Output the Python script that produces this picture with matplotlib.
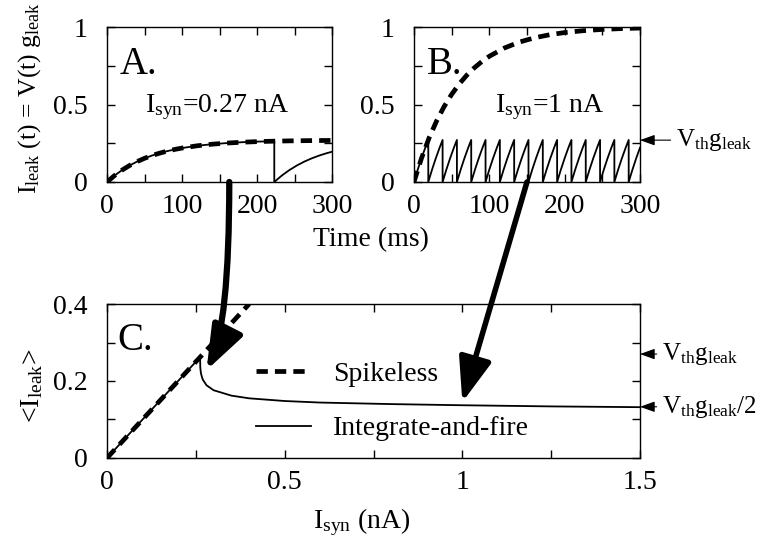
import numpy as np
import matplotlib
matplotlib.use("Agg")
import matplotlib.pyplot as plt
from matplotlib.patches import ConnectionPatch

plt.rcParams.update({
    "font.family": "Liberation Serif",
    "mathtext.fontset": "custom",
    "mathtext.rm": "Liberation Serif",
    "mathtext.it": "Liberation Serif:italic",
    "font.size": 20,
})

# ---- panel A: I_syn = 0.27 nA ----
tA = [0, 10, 20, 30, 40, 50, 60, 70, 80, 90, 100, 120, 140, 160, 180, 200, 225, 250, 275, 300]
spikelessA = [0, 0.0414, 0.0765, 0.1062, 0.1314, 0.1527, 0.1707, 0.1859, 0.1988, 0.2098, 0.2190,
              0.2335, 0.2438, 0.2512, 0.2566, 0.2604, 0.2637, 0.2658, 0.2672, 0.2682]
tA_if = [0, 10, 20, 30, 40, 50, 60, 70, 80, 90, 100, 120, 140, 160, 180, 200, 223,
         223, 233, 243, 253, 263, 273, 283, 293, 300]
ifA = [0, 0.0414, 0.0765, 0.1062, 0.1314, 0.1527, 0.1707, 0.1859, 0.1988, 0.2098, 0.2190,
       0.2335, 0.2438, 0.2512, 0.2566, 0.2604, 0.2632,
       0, 0.0414, 0.0765, 0.1062, 0.1314, 0.1527, 0.1707, 0.1860, 0.1950]

# ---- panel B: I_syn = 1 nA ----
tB = [0, 10, 20, 30, 40, 50, 60, 70, 80, 90, 100, 120, 140, 160, 180, 200, 225, 250, 275, 300]
spikelessB = [0, 0.1535, 0.2835, 0.3935, 0.4866, 0.5654, 0.6321, 0.6886, 0.7364, 0.7769, 0.8111,
              0.8647, 0.9030, 0.9305, 0.9502, 0.9643, 0.9765, 0.9845, 0.9898, 0.9933]
spike_times_B = [0, 19, 38, 57, 76, 95, 114, 133, 152, 171, 190, 209, 228, 247, 266, 285]
tooth_t = [0, 5, 10, 15, 19]
tooth_v = [0, 0.0799, 0.1535, 0.2212, 0.2714]

# ---- panel C: mean leak current vs I_syn ----
isyn_spikeless = [0, 0.4]
mean_spikeless = [0, 0.4]
isyn_if = [0, 0.262, 0.2625, 0.264, 0.266, 0.268, 0.27, 0.28, 0.30, 0.35, 0.40, 0.50,
           0.60, 0.80, 1.0, 1.25, 1.5]
mean_if = [0, 0.262, 0.235, 0.222, 0.214, 0.208, 0.203, 0.189, 0.176, 0.162, 0.155, 0.148,
           0.144, 0.140, 0.137, 0.134, 0.132]
vth_g = 0.27
vth_g_half = 0.133

fig = plt.figure(figsize=(7.6, 5.46), dpi=100)
axA = fig.add_axes([0.1408, 0.6667, 0.2961, 0.2838])
axB = fig.add_axes([0.5447, 0.6667, 0.2974, 0.2838])
axC = fig.add_axes([0.1408, 0.1612, 0.7013, 0.2820])

DASH = dict(color="k", lw=3.4, ls=(0, (2.4, 1.5)), solid_capstyle="butt", dash_capstyle="butt")
SOLID = dict(color="k", lw=1.3)
SMALL_ARROW = dict(arrowstyle="-|>,head_length=0.5,head_width=0.18", color="k", lw=0.8,
                   shrinkA=2, shrinkB=0)

def style(ax, xmaj, xmin, ymaj, ymin):
    ax.set_xticks(xmaj)
    ax.set_xticks(xmin, minor=True)
    ax.set_yticks(ymaj)
    ax.set_yticks(ymin, minor=True)
    ax.tick_params(which="both", direction="in", top=True, right=True, length=6, width=1)
    ax.tick_params(axis="x", which="major", pad=9)
    ax.tick_params(axis="y", which="major", pad=14)
    for s in ax.spines.values():
        s.set_linewidth(1)

# A
axA.plot(tA_if, ifA, **SOLID)
axA.plot(tA, spikelessA, **DASH)
axA.set_xlim(0, 300); axA.set_ylim(0, 1)
style(axA, [0, 100, 200, 300], [50, 150, 250], [0, 0.5, 1], [0.25, 0.75])
axA.set_yticklabels(["0", "0.5", "1"])
axA.text(0.055, 0.70, "A.", transform=axA.transAxes, fontsize=28)
axA.text(0.49, 0.45, r"I$_{\mathrm{syn}}$=0.27 nA", transform=axA.transAxes, ha="center")

# B
saw_t, saw_v = [], []
for ts in spike_times_B:
    for dt, v in zip(tooth_t, tooth_v):
        if ts + dt <= 300:
            saw_t.append(ts + dt); saw_v.append(v)
axB.plot(saw_t, saw_v, **SOLID)
axB.plot(tB, spikelessB, **DASH)
axB.set_xlim(0, 300); axB.set_ylim(0, 1)
style(axB, [0, 100, 200, 300], [50, 150, 250], [0, 0.5, 1], [0.25, 0.75])
axB.set_yticklabels(["0", "0.5", "1"])
axB.text(0.055, 0.70, "B.", transform=axB.transAxes, fontsize=28)
axB.text(0.60, 0.45, r"I$_{\mathrm{syn}}$=1 nA", transform=axB.transAxes, ha="center")
axB.annotate(r"V$_{\mathrm{th}}$g$_{\mathrm{leak}}$", xy=(300, vth_g), xycoords="data",
             xytext=(26, 0), textcoords="offset points", va="center", fontsize=18,
             annotation_clip=False, arrowprops=SMALL_ARROW)

fig.text(371 / 760, 1 - 240 / 546, "Time (ms)", ha="center", va="center")
fig.text(30 / 760, 1 - 98 / 546, r"I$_{\mathrm{leak}}$ (t) = V(t) g$_{\mathrm{leak}}$",
         rotation=90, ha="center", va="center", fontsize=18.5)

# C
axC.plot(isyn_if, mean_if, **SOLID, label="Integrate-and-fire")
axC.plot(isyn_spikeless, mean_spikeless, **DASH, label="Spikeless")
axC.set_xlim(0, 1.5); axC.set_ylim(0, 0.4)
style(axC, [0, 0.5, 1, 1.5], [0.25, 0.75, 1.25], [0, 0.2, 0.4], [0.1, 0.3])
axC.set_xticklabels(["0", "0.5", "1", "1.5"])
axC.set_yticklabels(["0", "0.2", "0.4"])
axC.text(0.02, 0.70, "C.", transform=axC.transAxes, fontsize=28)
h, l = axC.get_legend_handles_labels()
axC.legend(h[::-1], l[::-1], loc="upper left", bbox_to_anchor=(0.258, 0.70), frameon=False,
           handlelength=2.0, handletextpad=0.8, labelspacing=1.05, borderaxespad=0)
for yv, lab in [(vth_g, r"V$_{\mathrm{th}}$g$_{\mathrm{leak}}$"),
                (vth_g_half, r"V$_{\mathrm{th}}$g$_{\mathrm{leak}}$/2")]:
    axC.annotate(lab, xy=(1.5, yv), xycoords="data", xytext=(16, 0), textcoords="offset points",
                 va="center", fontsize=18, annotation_clip=False, arrowprops=SMALL_ARROW)
fig.text(362 / 760, 1 - 522 / 546, r"I$_{\mathrm{syn}}$ (nA)", ha="center", va="center")
fig.text(32 / 760, 1 - 386 / 546, r"<I$_{\mathrm{leak}}$>", rotation=90, ha="center", va="center")

# big arrows linking panels A/B to panel C
arr1 = ConnectionPatch(xyA=(163, 0), coordsA=axA.transData, xyB=(0.28, 0.228), coordsB=axC.transData,
                       arrowstyle="-|>,head_length=1.35,head_width=0.5", mutation_scale=20,
                       connectionstyle="angle3,angleA=90,angleB=63", lw=4.5, color="k",
                       shrinkA=0, shrinkB=0, zorder=10)
arr2 = ConnectionPatch(xyA=(150, 0), coordsA=axB.transData, xyB=(1.0, 0.145), coordsB=axC.transData,
                       arrowstyle="-|>,head_length=1.35,head_width=0.5", mutation_scale=20,
                       lw=4.0, color="k", shrinkA=0, shrinkB=0, zorder=10)
fig.add_artist(arr1)
fig.add_artist(arr2)

fig.savefig("out.png", dpi=100)
